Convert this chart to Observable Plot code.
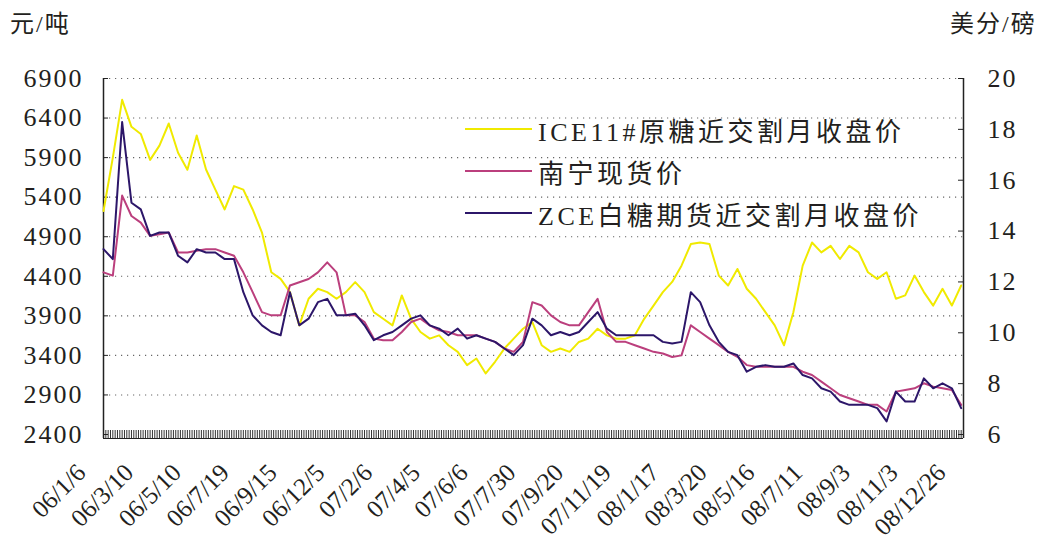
<!DOCTYPE html>
<html><head><meta charset="utf-8">
<script src="https://cdn.jsdelivr.net/npm/d3@7"></script>
<script src="https://cdn.jsdelivr.net/npm/@observablehq/plot@0.6"></script>
<style>
body{margin:0;background:#fff;}
#wrap{position:relative;width:1044px;height:557px;overflow:hidden;background:#fff;}
#wrap svg{position:absolute;left:0;top:0;}
.t{position:absolute;font-family:"Liberation Serif","Noto Sans CJK SC",serif;color:#231f20;white-space:nowrap;}
</style></head><body><div id="wrap"></div>
<script>
// ---- data ----
// one sample every 8 trading days, starting 06/1/6
const xLabels = ["06/1/6","06/3/10","06/5/10","06/7/19","06/9/15","06/12/5","07/2/6","07/4/5","07/6/6","07/7/30","07/9/20","07/11/19","08/1/17","08/3/20","08/5/16","08/7/11","08/9/3","08/11/3","08/12/26"];
const leftTicks = [2400,2900,3400,3900,4400,4900,5400,5900,6400,6900];
const rightTicks = [6,8,10,12,14,16,18,20];
const seriesNames = ["ICE11#原糖近交割月收盘价","南宁现货价","ZCE白糖期货近交割月收盘价"];
const seriesColors = ["#f0ea00","#bb3f7d","#2c1669"];
// ICE11# raw sugar, US cents / lb (right axis)
const ice = [14.79,16.89,19.16,18.10,17.82,16.80,17.36,18.23,17.08,16.41,
  17.76,16.42,15.63,14.85,15.77,15.63,14.85,13.94,12.38,12.12,
  11.60,10.29,11.34,11.73,11.60,11.34,11.60,11.99,11.60,10.81,
  10.55,10.29,11.47,10.55,10.03,9.77,9.90,9.51,9.25,8.73,
  8.99,8.40,8.86,9.38,9.77,10.16,10.42,9.51,9.25,9.38,
  9.25,9.64,9.77,10.16,9.90,9.77,9.77,9.90,10.55,11.07,
  11.60,12.00,12.64,13.49,13.55,13.49,12.25,11.86,12.51,11.73,
  11.34,10.81,10.29,9.51,10.81,12.64,13.55,13.16,13.42,12.90,
  13.42,13.16,12.38,12.12,12.38,11.34,11.47,12.25,11.60,11.07,
  11.73,11.07,11.86];
// Nanning spot, yuan / t (left axis)
const nanning = [4450,4408,5420,5162,5078,4911,4932,4953,4701,4701,
  4722,4743,4743,4701,4659,4450,4199,3947,3906,3906,
  4283,4324,4366,4450,4576,4450,3906,3906,3822,3612,
  3592,3592,3696,3822,3864,3780,3717,3696,3654,3654,
  3654,3612,3571,3487,3445,3571,4073,4031,3906,3822,
  3780,3780,3947,4115,3696,3571,3571,3529,3487,3445,
  3424,3380,3400,3780,3696,3612,3529,3445,3382,3277,
  3256,3256,3256,3256,3256,3194,3152,3068,2984,2900,
  2859,2817,2775,2775,2691,2942,2963,2984,3047,3005,
  2984,2963,2775];
// ZCE white sugar futures, yuan / t (left axis)
const zce = [4743,4617,6350,5330,5246,4911,4953,4953,4659,4575,
  4743,4701,4701,4617,4617,4199,3906,3780,3696,3654,
  4199,3780,3864,4073,4115,3906,3906,3927,3780,3592,
  3654,3696,3780,3864,3906,3780,3738,3654,3738,3612,
  3654,3612,3571,3487,3403,3529,3864,3780,3654,3696,
  3654,3696,3822,3947,3738,3654,3654,3654,3654,3654,
  3571,3550,3571,4199,4073,3780,3571,3445,3403,3194,
  3256,3277,3256,3256,3298,3152,3110,2984,2942,2817,
  2775,2775,2775,2733,2565,2942,2817,2817,3110,2984,
  3047,2984,2733];

// ---- layout ----
const step = 8, labelEvery = 41, lastDay = 738;
const W = 1044, H = 557, mL = 103, mR = 81, mT = 78, mB = 123;
const innerW = W - mL - mR, innerH = H - mT - mB;
const font = '"Liberation Serif","Noto Sans CJK SC",serif';
const toLeft = c => 2400 + (c - 6) * 4500 / 14;
const fromLeft = v => 6 + (v - 2400) * 14 / 4500;
const rows = (arr, conv) => arr.map((v, k) => ({day: k * step, value: conv(v)}));
const labelDays = xLabels.map((_, i) => i * labelEvery);
const hatch = d3.range(0, lastDay + 1, 2);

const chart = Plot.plot({
  width: W, height: H,
  marginLeft: mL, marginRight: mR, marginTop: mT, marginBottom: mB,
  x: {domain: [0, lastDay], axis: null},
  y: {domain: [2400, 6900], axis: null},
  marks: [
    Plot.gridY(leftTicks.slice(1), {stroke: "#666", strokeOpacity: 1, strokeWidth: 1.1, strokeDasharray: "1.2,4.8"}),
    Plot.tickX(hatch, {x: d => d, stroke: "#333", strokeWidth: 1, insetTop: innerH - 8, dy: 4}),
    Plot.ruleY([2400], {stroke: "#222", strokeWidth: 1.2, dy: 4}),
    Plot.ruleX([0, lastDay], {stroke: "#222", strokeWidth: 1.5, insetBottom: -4}),
    Plot.tickY(leftTicks, {y: d => d, stroke: "#222", insetRight: innerW - 5}),
    Plot.tickY(rightTicks.map(toLeft), {y: d => d, stroke: "#222", insetLeft: innerW - 5}),
    Plot.axisY(leftTicks, {anchor: "left", tickSize: 0, tickPadding: 20, fontSize: 26, fontFamily: font, fill: "#231f20", label: null, tickFormat: d => String(d)}),
    Plot.axisY(rightTicks.map(toLeft), {anchor: "right", tickSize: 0, tickPadding: 24, fontSize: 26, fontFamily: font, fill: "#231f20", label: null, tickFormat: v => String(Math.round(fromLeft(v)))}),
    Plot.axisX(labelDays, {anchor: "bottom", tickSize: 0, tickRotate: -45, tickPadding: 34, dx: -22, fontSize: 25, fontFamily: font, fill: "#231f20", label: null, tickFormat: d => xLabels[labelDays.indexOf(d)]}),
    Plot.lineY(rows(ice, toLeft), {x: "day", y: "value", stroke: seriesColors[0], strokeWidth: 2}),
    Plot.lineY(rows(nanning, v => v), {x: "day", y: "value", stroke: seriesColors[1], strokeWidth: 2}),
    Plot.lineY(rows(zce, v => v), {x: "day", y: "value", stroke: seriesColors[2], strokeWidth: 2})
  ]
});
d3.select(chart).selectAll('g[aria-label="y-axis tick label"] text').style("letter-spacing", "2px");

const wrap = document.getElementById("wrap");
wrap.appendChild(chart);

function addText(txt, left, top, size, spacing) {
  const d = document.createElement("div");
  d.className = "t";
  d.textContent = txt;
  Object.assign(d.style, {left: left + "px", top: top + "px", fontSize: size + "px", letterSpacing: spacing + "px", lineHeight: "1"});
  wrap.appendChild(d);
  return d;
}
addText("元/吨", 10, 12, 24, 2);
addText("美分/磅", 950, 12, 24, 2);

seriesNames.forEach((name, i) => {
  const row = document.createElement("div");
  row.className = "t";
  Object.assign(row.style, {left: "465px", top: (108 + i * 42) + "px", height: "42px", display: "flex", alignItems: "center", fontSize: "26px", letterSpacing: "3.5px"});
  const ln = document.createElement("div");
  Object.assign(ln.style, {width: "67px", height: "2px", background: seriesColors[i], marginRight: "6px"});
  const tx = document.createElement("span");
  tx.textContent = name;
  row.appendChild(ln); row.appendChild(tx);
  wrap.appendChild(row);
});
</script></body></html>
